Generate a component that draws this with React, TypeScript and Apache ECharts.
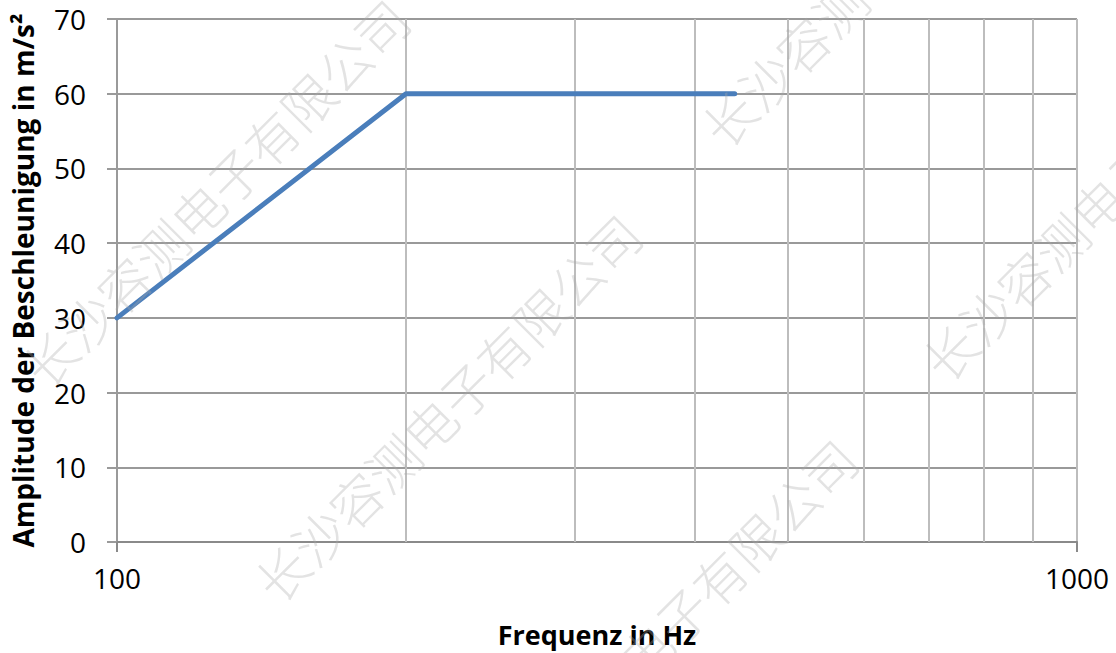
import React, { useEffect, useRef } from "react";
import * as echarts from "echarts";

const frequencies = [100, 200, 440];
const amplitudes = [30, 60, 60];
const minorGridFreqs = [200, 300, 400, 500, 600, 700, 800, 900];
const xTitle = "Frequenz in Hz";
const yTitle = "Amplitude der Beschleunigung in m/s²";
const watermarkText = "长沙容测电子有限公司";
const watermarkCenters = [
  [215, 192],
  [447, 407],
  [894, -48],
  [663, 632],
  [1115, 186],
];

const FONT = "'Open Sans', 'Noto Sans', sans-serif";

export default function App() {
  const ref = useRef<HTMLDivElement>(null);
  useEffect(() => {
    if (!ref.current) return;
    const chart = echarts.init(ref.current, null, { renderer: "svg" });
    const lineData = frequencies.map((f, i) => [f, amplitudes[i]]);
    chart.setOption({
      animation: false,
      backgroundColor: "#ffffff",
      grid: { left: 117, right: 39, top: 19, bottom: 111, containLabel: false },
      xAxis: {
        type: "log",
        logBase: 10,
        min: 100,
        max: 1000,
        name: xTitle,
        nameLocation: "middle",
        nameGap: 79,
        nameTextStyle: { fontFamily: FONT, fontSize: 27, fontWeight: "bold", color: "#000" },
        axisLine: { show: true, onZero: false, lineStyle: { color: "#8a8a8a", width: 2 } },
        axisTick: { show: true, length: 10, lineStyle: { color: "#8a8a8a", width: 2 } },
        axisLabel: {
          fontFamily: FONT,
          fontSize: 28,
          color: "#000",
          margin: 22,
          formatter: (v: number) => String(Math.round(v)),
        },
        splitLine: { show: true, lineStyle: { color: "#bdbdbd", width: 2 } },
        minorTick: { show: false },
        minorSplitLine: { show: false },
      },
      yAxis: {
        type: "value",
        min: 0,
        max: 70,
        interval: 10,
        name: yTitle,
        nameLocation: "middle",
        nameGap: 80,
        nameTextStyle: { fontFamily: FONT, fontSize: 28, fontWeight: "bold", color: "#000" },
        axisLine: { show: true, lineStyle: { color: "#9a9a9a", width: 2 } },
        axisTick: { show: true, length: 10, lineStyle: { color: "#9a9a9a", width: 2 } },
        axisLabel: { fontFamily: FONT, fontSize: 28, color: "#000", margin: 31 },
        splitLine: { show: true, lineStyle: { color: "#999999", width: 2 } },
      },
      series: [
        {
          type: "line",
          data: lineData,
          symbol: "none",
          silent: true,
          z: 1,
          lineStyle: { opacity: 0 },
          markLine: {
            silent: true,
            symbol: ["none", "none"],
            label: { show: false },
            lineStyle: { type: "solid", color: "#bdbdbd", width: 2 },
            data: minorGridFreqs.map((f) => ({ xAxis: f })),
          },
        },
        {
          type: "line",
          data: lineData,
          symbol: "none",
          z: 5,
          lineStyle: { color: "#4a7ebb", width: 5, cap: "round", join: "round" },
        },
      ],
      graphic: watermarkCenters.map(([x, y]) => ({
        type: "text",
        x,
        y,
        rotation: Math.PI / 4,
        z: 100,
        silent: true,
        style: {
          text: watermarkText,
          fontFamily: "'Noto Sans CJK SC', sans-serif",
          fontSize: 52,
          fontWeight: 300,
          fill: "rgba(170,170,170,0.33)",
          align: "center",
          verticalAlign: "middle",
        },
      })),
    });
    return () => chart.dispose();
  }, []);
  return (
    <div
      ref={ref}
      style={{ position: "fixed", left: 0, top: 0, width: 1116, height: 653 }}
    />
  );
}
